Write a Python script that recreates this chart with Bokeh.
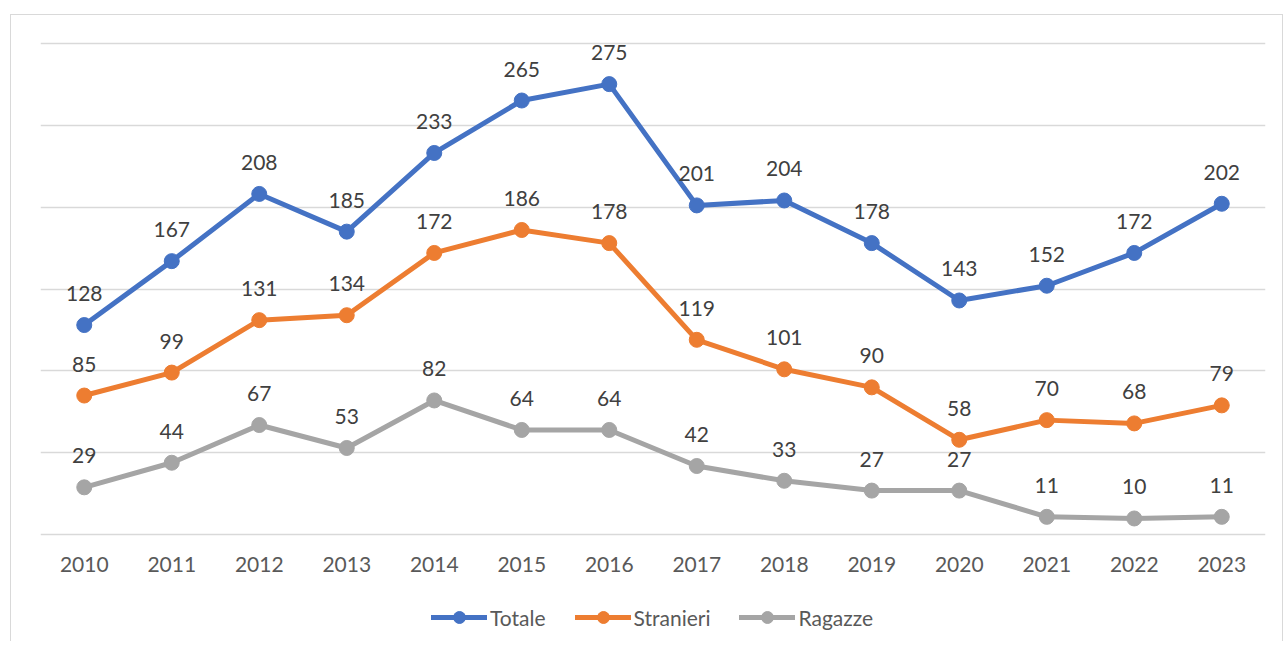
from bokeh.plotting import figure
from bokeh.layouts import column
from bokeh.models import (ColumnDataSource, FactorRange, Range1d, LabelSet, Legend,
                          LegendItem, FixedTicker)
from bokeh.core.properties import value
from bokeh.embed import file_html
from bokeh.resources import INLINE

years = ["2010", "2011", "2012", "2013", "2014", "2015", "2016",
         "2017", "2018", "2019", "2020", "2021", "2022", "2023"]
totale = [128, 167, 208, 185, 233, 265, 275, 201, 204, 178, 143, 152, 172, 202]
stranieri = [85, 99, 131, 134, 172, 186, 178, 119, 101, 90, 58, 70, 68, 79]
ragazze = [29, 44, 67, 53, 82, 64, 64, 42, 33, 27, 27, 11, 10, 11]
y_ticks = [0, 50, 100, 150, 200, 250, 300]

series = [
    ("Totale", totale, "#4472C4"),
    ("Stranieri", stranieri, "#ED7D31"),
    ("Ragazze", ragazze, "#A5A5A5"),
]

FONT = value("Lato")
FS = "21px"
LW = 5
MS = 15

p = figure(width=1271, height=578, x_range=FactorRange(*years),
           y_range=Range1d(-1, 301), output_backend="svg", toolbar_location=None,
           min_border_left=29, min_border_right=17, min_border_top=26,
           min_border_bottom=57)
p.outline_line_color = None
p.background_fill_color = "white"
p.border_fill_color = "white"

p.yaxis.visible = False
p.xgrid.visible = False
p.ygrid.ticker = FixedTicker(ticks=y_ticks)
p.ygrid.grid_line_color = "#D9D9D9"
p.ygrid.grid_line_width = 1.3

xa = p.xaxis[0]
xa.axis_line_color = None
xa.major_tick_line_color = None
xa.minor_tick_line_color = None
xa.major_tick_out = 0
xa.major_tick_in = 0
xa.major_label_standoff = 20
xa.major_label_text_font = "Lato"
xa.major_label_text_font_size = FS
xa.major_label_text_color = "#595959"

for name, vals, color in series:
    src = ColumnDataSource(dict(year=years, val=vals, lab=[str(v) for v in vals]))
    p.line("year", "val", source=src, line_color=color, line_width=LW,
           line_join="round", line_cap="round")
    p.scatter("year", "val", source=src, size=MS, fill_color=color,
              line_color=color, marker="circle")

for name, vals, color in series:
    src = ColumnDataSource(dict(year=years, val=vals, lab=[str(v) for v in vals]))
    labels = LabelSet(x="year", y="val", text="lab", source=src, y_offset=24,
                      text_align="center", text_baseline="alphabetic",
                      text_font=FONT, text_font_size=FS, text_color="#404040")
    p.add_layout(labels)

# legend strip (its renderers sit outside the strip's visible range)
lp = figure(width=1271, height=48, x_range=Range1d(0, 1), y_range=Range1d(0, 1),
            output_backend="svg", toolbar_location=None,
            min_border_left=0, min_border_right=0, min_border_top=0,
            min_border_bottom=0, x_axis_location=None, y_axis_location=None)
lp.outline_line_color = None
lp.xgrid.visible = False
lp.ygrid.visible = False
lp.border_fill_color = "white"

items = []
for name, vals, color in series:
    ln = lp.line(x=[5, 6], y=[5, 6], line_color=color, line_width=LW, line_cap="round")
    sc = lp.scatter(x=[5], y=[5], size=MS, fill_color=color, line_color=color,
                    marker="circle")
    items.append(LegendItem(label=name, renderers=[ln, sc]))

legend = Legend(items=items, orientation="horizontal", location=(391, 9),
                label_text_font="Lato", label_text_font_size=FS,
                label_text_color="#595959", glyph_width=56, glyph_height=30,
                label_standoff=3, spacing=29, padding=0, margin=0,
                border_line_color=None, background_fill_alpha=0)
lp.add_layout(legend, "center")

layout = column(p, lp, spacing=0, margin=(14, 0, 0, 10),
                styles={"border-left": "1px solid #D9D9D9",
                        "border-top": "1px solid #D9D9D9",
                        "border-right": "1px solid #D9D9D9"})

open("out.html", "w").write(file_html(layout, INLINE))
